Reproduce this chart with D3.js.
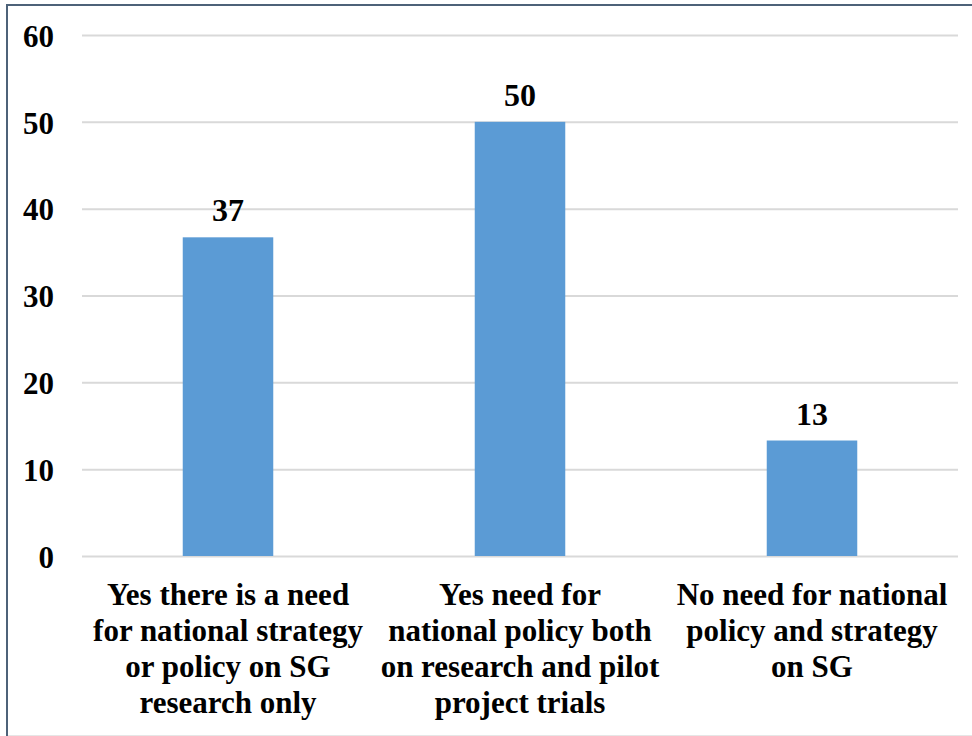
<!DOCTYPE html>
<html>
<head>
<meta charset="utf-8">
<script src="https://cdn.jsdelivr.net/npm/d3@7"></script>
<style>
  html, body { margin: 0; padding: 0; background: #fff; }
  svg { display: block; }
</style>
</head>
<body>
<svg id="chart" width="972" height="736"></svg>
<script>
// Survey responses: need for a national SG policy / strategy (percent)
const categories = [
  "Yes there is a need\nfor national strategy\nor policy on SG\nresearch only",
  "Yes need for\nnational policy both\non research and pilot\nproject trials",
  "No need for national\npolicy and strategy\non SG"
];
const values = [36.7, 50, 13.3];
const yTicks = [0, 10, 20, 30, 40, 50, 60];

const FONT = "font-family:'Liberation Serif','Times New Roman',serif;font-weight:bold;";

const svg = d3.select("#chart");
const W = 972, H = 736;
const plot = { left: 82, right: 958, top: 35, bottom: 556 };

// outer frame: dark top and left edges, faint bottom edge
svg.append("line")
  .attr("x1", 7).attr("x2", W).attr("y1", 5).attr("y2", 5)
  .attr("stroke", "#4d6279").attr("stroke-width", 2);
svg.append("line")
  .attr("x1", 7).attr("x2", 7).attr("y1", 4).attr("y2", H)
  .attr("stroke", "#4d6279").attr("stroke-width", 2);
svg.append("line")
  .attr("x1", 8).attr("x2", W).attr("y1", 735.5).attr("y2", 735.5)
  .attr("stroke", "#e6e6e6").attr("stroke-width", 1);

const x = d3.scaleBand()
  .domain(d3.range(categories.length))
  .range([plot.left, plot.right])
  .paddingInner(0.69)
  .paddingOuter(0.345);

const y = d3.scaleLinear()
  .domain([0, 60])
  .range([plot.bottom, plot.top]);

// horizontal gridlines + tick labels
const yAxis = d3.axisLeft(y)
  .tickValues(yTicks)
  .tickSize(-(plot.right - plot.left))
  .tickPadding(28)
  .tickFormat(d3.format("d"));

const gy = svg.append("g")
  .attr("transform", `translate(${plot.left},0)`)
  .call(yAxis);
gy.select(".domain").remove();
gy.selectAll(".tick line").attr("stroke", "#d9d9d9").attr("stroke-width", 2);
gy.selectAll(".tick text")
  .attr("dy", "0.36em")
  .attr("style", FONT + "font-size:31px;fill:#000;");

// bars
svg.append("g").selectAll("rect")
  .data(values)
  .join("rect")
  .attr("x", (d, i) => x(i))
  .attr("width", x.bandwidth())
  .attr("y", d => y(d))
  .attr("height", d => y(0) - y(d))
  .attr("fill", "#5b9bd5");

// value labels above bars
svg.append("g").selectAll("text")
  .data(values)
  .join("text")
  .attr("x", (d, i) => x(i) + x.bandwidth() / 2)
  .attr("y", d => y(d) - 16)
  .attr("text-anchor", "middle")
  .attr("style", FONT + "font-size:32px;fill:#000;")
  .text(d => d3.format(".0f")(d));

// category labels (multi-line)
const cat = svg.append("g").selectAll("text")
  .data(categories)
  .join("text")
  .attr("text-anchor", "middle")
  .attr("style", FONT + "font-size:31px;fill:#000;")
  .attr("transform", (d, i) => `translate(${x(i) + x.bandwidth() / 2},605)`);
cat.selectAll("tspan")
  .data(d => d.split("\n"))
  .join("tspan")
  .attr("x", 0)
  .attr("y", (d, j) => j * 36)
  .text(d => d);
</script>
</body>
</html>
